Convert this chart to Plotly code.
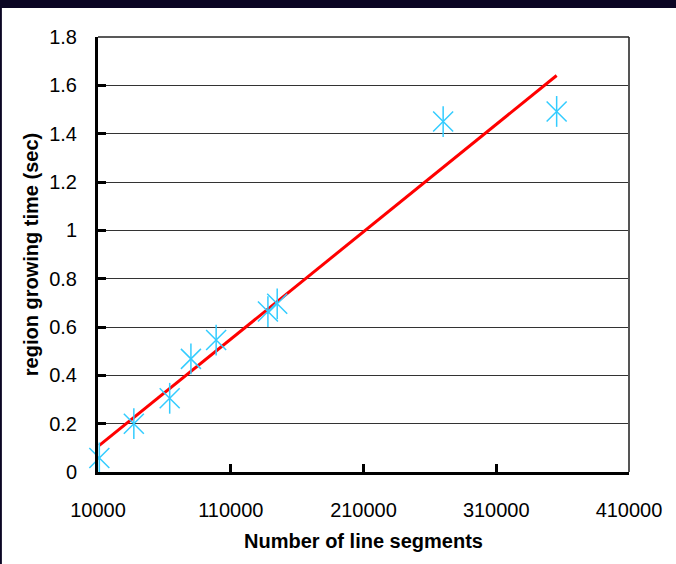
import numpy as np
import plotly.graph_objects as go

# Measured region-growing times versus number of line segments
segments = [11000, 37000, 64000, 80000, 99000, 138000, 145000, 270000, 355500]
times = [0.058, 0.20, 0.305, 0.468, 0.546, 0.664, 0.696, 1.450, 1.492]

x_tick_vals = [10000, 110000, 210000, 310000, 410000]
x_tick_text = ["10000", "110000", "210000", "310000", "410000"]
y_tick_vals = [0, 0.2, 0.4, 0.6, 0.8, 1.0, 1.2, 1.4, 1.6, 1.8]
y_tick_text = ["0", "0.2", "0.4", "0.6", "0.8", "1", "1.2", "1.4", "1.6", "1.8"]

# Linear least-squares trend over the measured range
slope, intercept = np.polyfit(segments, times, 1)
trend_x = [min(segments), max(segments)]
trend_y = [slope * v + intercept for v in trend_x]

FONT = "Liberation Sans, Arial, sans-serif"
STAR = "#33ccff"

fig = go.Figure()

fig.add_trace(go.Scatter(
    x=trend_x, y=trend_y, mode="lines",
    line=dict(color="#ff0000", width=3), hoverinfo="skip", showlegend=False,
))
# six-spoke asterisk markers: an X plus a vertical stroke
fig.add_trace(go.Scatter(
    x=segments, y=times, mode="markers", cliponaxis=False,
    marker=dict(symbol="x-thin-open", size=20, color=STAR,
                line=dict(color=STAR, width=1.5)),
    showlegend=False,
))
fig.add_trace(go.Scatter(
    x=segments, y=times, mode="markers", cliponaxis=False,
    marker=dict(symbol="line-ns-open", size=22, color=STAR,
                line=dict(color=STAR, width=1.5)),
    showlegend=False,
))

fig.update_layout(
    width=676, height=564,
    margin=dict(l=98, r=47, t=37, b=92, pad=0),
    paper_bgcolor="#0b0624",
    plot_bgcolor="white",
    font=dict(family=FONT, size=20, color="black"),
    shapes=[
        # white page area inside the dark frame
        dict(type="rect", xref="paper", yref="paper",
             x0=-0.181, x1=1.2, y0=-0.3, y1=1.0667,
             fillcolor="white", line=dict(width=0), layer="below"),
        # right and top border of the plot area
        dict(type="line", xref="paper", yref="paper", x0=1, x1=1, y0=0, y1=1,
             line=dict(color="#555555", width=2)),
        dict(type="line", xref="paper", yref="paper", x0=0, x1=1, y0=1, y1=1,
             line=dict(color="#222222", width=1.5)),
    ],
)

fig.update_xaxes(
    range=[10000, 410000],
    tickmode="array", tickvals=x_tick_vals, ticktext=x_tick_text,
    ticks="inside", ticklen=8, tickwidth=3, tickcolor="black",
    showline=True, linecolor="black", linewidth=3,
    showgrid=False, zeroline=False,
    ticklabelstandoff=18,
    tickfont=dict(size=20),
    title=dict(text="<b>Number of line segments</b>", font=dict(size=20), standoff=14),
)
fig.update_yaxes(
    range=[0, 1.8],
    tickmode="array", tickvals=y_tick_vals, ticktext=y_tick_text,
    ticks="inside", ticklen=8, tickwidth=3, tickcolor="black",
    showline=True, linecolor="black", linewidth=3,
    showgrid=True, gridcolor="#333333", gridwidth=1,
    zeroline=False,
    ticklabelstandoff=14,
    tickfont=dict(size=20),
    title=dict(text="<b>region growing time (sec)</b>", font=dict(size=20), standoff=6),
)

fig.write_html("out.html")
